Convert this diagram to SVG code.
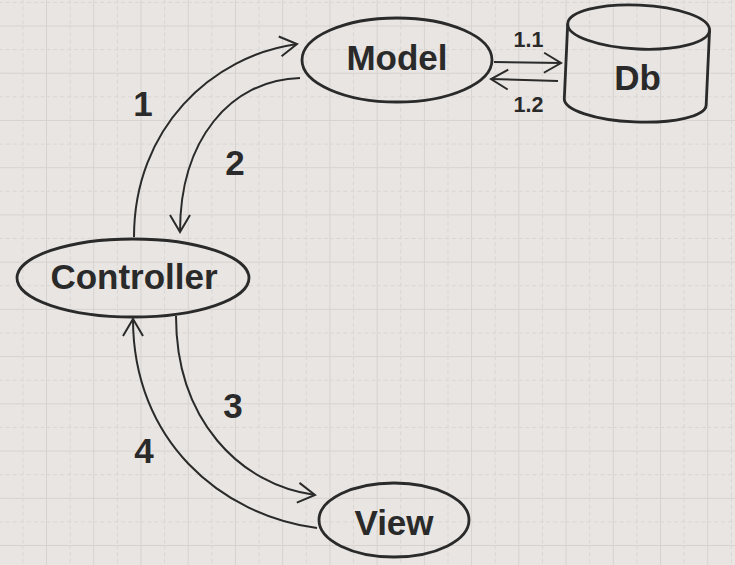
<svg xmlns="http://www.w3.org/2000/svg" width="735" height="565" viewBox="0 0 735 565">
<style>
.shape{fill:none;stroke:#2a2a2a;stroke-width:2.8}
.conn{fill:none;stroke:#2a2a2a;stroke-width:2}
.lbl{font-family:"Liberation Sans",Arial,sans-serif;font-weight:bold;fill:#2a2a2a;text-anchor:middle}
.big{font-size:35px}
.num{font-size:35px}
.small{font-size:21.5px}
</style>
<defs>
<pattern id="grid" patternUnits="userSpaceOnUse" x="-1.2" y="25.5" width="47.23" height="47.23">
<rect x="0" y="0" width="1" height="47.23" fill="#d5d2cf"/>
<rect x="0" y="0" width="47.23" height="1" fill="#d5d2cf"/>
<line x1="24.1" y1="0" x2="24.1" y2="47.23" stroke="#d8d5d2" stroke-width="1" stroke-dasharray="4 3"/>
<line x1="0" y1="24.1" x2="47.23" y2="24.1" stroke="#d8d5d2" stroke-width="1" stroke-dasharray="4 3"/>
</pattern>
<marker id="arr" markerUnits="userSpaceOnUse" viewBox="-19 -12 21 24" refX="0" refY="0" markerWidth="21" markerHeight="24" orient="auto" overflow="visible">
<path d="M-17,-10 L0,0 L-17,10" fill="none" stroke="#2a2a2a" stroke-width="2"/>
</marker>
</defs>
<rect width="735" height="565" fill="#e8e5e2"/>
<rect width="735" height="565" fill="url(#grid)"/>

<g id="connectors">
<path id="c1" class="conn" d="M134,237 C134,128 212,56 297,44" marker-end="url(#arr)"/>
<path id="c2" class="conn" d="M300,78 C230,80 180,140 180,232" marker-end="url(#arr)"/>
<path id="c3" class="conn" d="M176,316 C176,420 240,485 315,495" marker-end="url(#arr)"/>
<path id="c4" class="conn" d="M317,528 C220,515 133,440 133,319" marker-end="url(#arr)"/>
<path id="c11" class="conn" d="M494,62 L561,63" marker-end="url(#arr)"/>
<path id="c12" class="conn" d="M558,81 L491,79" marker-end="url(#arr)"/>
<text class="lbl num" x="143" y="116">1</text>
<text class="lbl num" x="235" y="175">2</text>
<text class="lbl num" x="233" y="418">3</text>
<text class="lbl num" x="144" y="463">4</text>
<text class="lbl small" x="528.5" y="47">1.1</text>
<text class="lbl small" x="528.5" y="111.5">1.2</text>
</g>

<g id="model">
<ellipse class="shape" cx="397" cy="60" rx="95" ry="42"/>
<text class="lbl big" x="397" y="70">Model</text>
</g>

<g id="db">
<g transform="rotate(2.6 637 63)">
<ellipse class="shape" cx="637" cy="27" rx="71" ry="22"/>
<path class="shape" d="M566,27 L566,102 A71,20 0 0 0 708,102 L708,27"/>
</g>
<text class="lbl big" x="637.5" y="90">Db</text>
</g>

<g id="controller">
<ellipse class="shape" cx="133" cy="278" rx="116" ry="39"/>
<text class="lbl big" x="134" y="289">Controller</text>
</g>

<g id="view">
<ellipse class="shape" cx="394" cy="520" rx="75" ry="37"/>
<text class="lbl big" x="394" y="535">View</text>
</g>
</svg>
